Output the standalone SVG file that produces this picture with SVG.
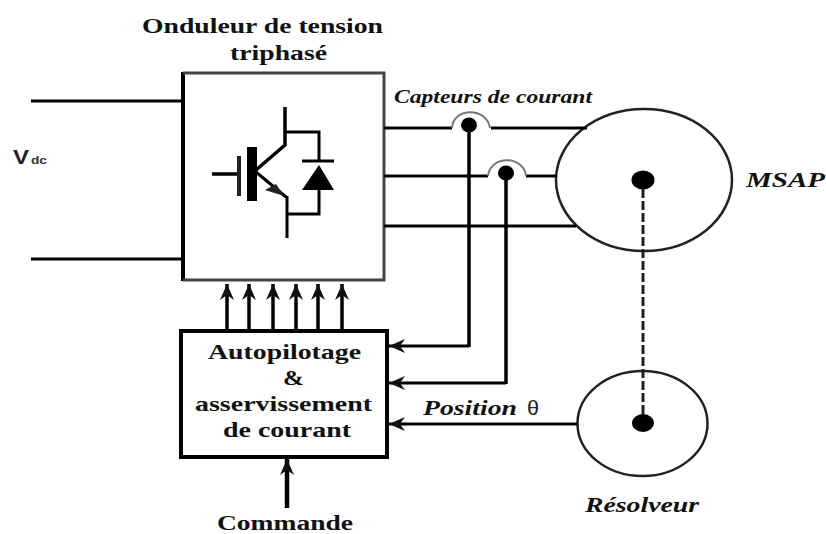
<svg xmlns="http://www.w3.org/2000/svg" width="826" height="534" viewBox="0 0 826 534">
<defs>
<marker id="ah" markerUnits="userSpaceOnUse" markerWidth="18" markerHeight="18" refX="16" refY="8" orient="auto"><path d="M0 1L16 8L0 15L5 8Z" fill="#111"/></marker>
</defs>
<style>
.l{stroke:#000;stroke-width:3.5;fill:none}
.t{stroke:#000;stroke-width:3;fill:none}
.b{font-family:"Liberation Serif",serif;font-weight:bold;fill:#111;font-size:21px}
.i{font-family:"Liberation Serif",serif;font-weight:bold;font-style:italic;fill:#111;font-size:20px}
</style>
<rect width="826" height="534" fill="#fff"/>
<g id="onduleur">
<path d="M183 72V281" stroke="#000" stroke-width="4" fill="none"/>
<path d="M183 73H384V280H183" stroke="#444" stroke-width="3" fill="none"/>
<path class="l" d="M285 107V145L256 170M212 174H239"/>
<path class="t" d="M285 132H319V161M287 214H319V188M287 196V238M256 172L286 197"/>
<path d="M239 156V196" stroke="#222" stroke-width="4" fill="none"/>
<rect x="247" y="147" width="10" height="54" fill="#000"/>
<path d="M302 161H334" stroke="#000" stroke-width="3" fill="none"/>
<path d="M319 165L334 190H302Z" fill="#000"/>
<path d="M265 190L276 184L284 196Z" fill="#222"/>
<text class="b" x="142" y="33" textLength="241" lengthAdjust="spacingAndGlyphs">Onduleur de tension</text>
<text class="b" x="230" y="60" textLength="97" lengthAdjust="spacingAndGlyphs">triphasé</text>
</g>
<g id="vdc"><text x="13" y="164" font-family="Liberation Sans,sans-serif" font-weight="bold" font-size="21" fill="#222" textLength="16" lengthAdjust="spacingAndGlyphs">V</text><text x="31" y="164" font-family="Liberation Sans,sans-serif" font-weight="bold" font-size="11" fill="#333" textLength="16" lengthAdjust="spacingAndGlyphs">dc</text></g>
<g id="capteurs">
<ellipse cx="469" cy="125" rx="8" ry="7.500" fill="#000"/>
<ellipse cx="506" cy="173" rx="8" ry="7.500" fill="#000"/>
<text class="i" x="394" y="103" textLength="198" lengthAdjust="spacingAndGlyphs" style="font-size:18px">Capteurs de courant</text>
</g>
<g id="msap">
<ellipse cx="644" cy="180" rx="88" ry="71" fill="#fff" stroke="#222" stroke-width="2.500"/>
<ellipse cx="643" cy="180" rx="11.500" ry="9.500" fill="#000"/>
<text class="i" x="746" y="187" textLength="79" lengthAdjust="spacingAndGlyphs">MSAP</text>
</g>
<g id="resolveur">
<ellipse cx="642.500" cy="423.500" rx="65" ry="52.500" fill="#fff" stroke="#222" stroke-width="2.500"/>
<ellipse cx="643" cy="423" rx="11" ry="9" fill="#000"/>
<text class="i" x="585" y="512" textLength="114" lengthAdjust="spacingAndGlyphs">Résolveur</text>
</g>
<g id="autopilotage">
<rect x="181" y="331" width="206" height="126" fill="#fff" stroke="#000" stroke-width="4"/>
<text class="b" x="208" y="359" textLength="153" lengthAdjust="spacingAndGlyphs">Autopilotage</text>
<text class="b" x="283" y="385" textLength="21" lengthAdjust="spacingAndGlyphs">&amp;</text>
<text class="b" x="195" y="411" textLength="177" lengthAdjust="spacingAndGlyphs">asservissement</text>
<text class="b" x="223" y="437" textLength="128" lengthAdjust="spacingAndGlyphs">de courant</text>
</g>
<g id="position"><text class="i" x="423" y="415" textLength="94" lengthAdjust="spacingAndGlyphs">Position</text><text x="527" y="415" font-family="Liberation Sans,sans-serif" font-size="20" fill="#222" textLength="12" lengthAdjust="spacingAndGlyphs">θ</text></g>
<g id="commande"><text class="b" x="217" y="529.500" textLength="136" lengthAdjust="spacingAndGlyphs" style="font-size:20px">Commande</text></g>
<g id="connectors">
<path class="t" d="M31 101H183M31 259H183"/>
<path class="t" d="M384 128H452M491 128H587M384 176H488M526 176H557M384 226H576"/>
<path d="M452 128C453 107 487 107 490 128M488 176C490 155 524 155 526 176" fill="none" stroke="#777" stroke-width="2"/>
<path class="l" d="M469 130V347"/>
<path class="t" d="M469 346H389" marker-end="url(#ah)"/>
<path class="l" d="M506 175V384"/>
<path class="t" d="M506 383H389" marker-end="url(#ah)"/>
<path class="t" d="M577 424H389" marker-end="url(#ah)"/>
<path d="M643 189V415" stroke="#222" stroke-width="3" stroke-dasharray="9 3" fill="none"/>
<path class="l" d="M227 330V284" marker-end="url(#ah)"/>
<path class="l" d="M249 330V284" marker-end="url(#ah)"/>
<path class="l" d="M273 330V284" marker-end="url(#ah)"/>
<path class="l" d="M296 330V284" marker-end="url(#ah)"/>
<path class="l" d="M318 330V284" marker-end="url(#ah)"/>
<path class="l" d="M342 330V284" marker-end="url(#ah)"/>
<path d="M287 508V459" stroke="#000" stroke-width="4.500" fill="none" marker-end="url(#ah)"/>
</g>
</svg>
